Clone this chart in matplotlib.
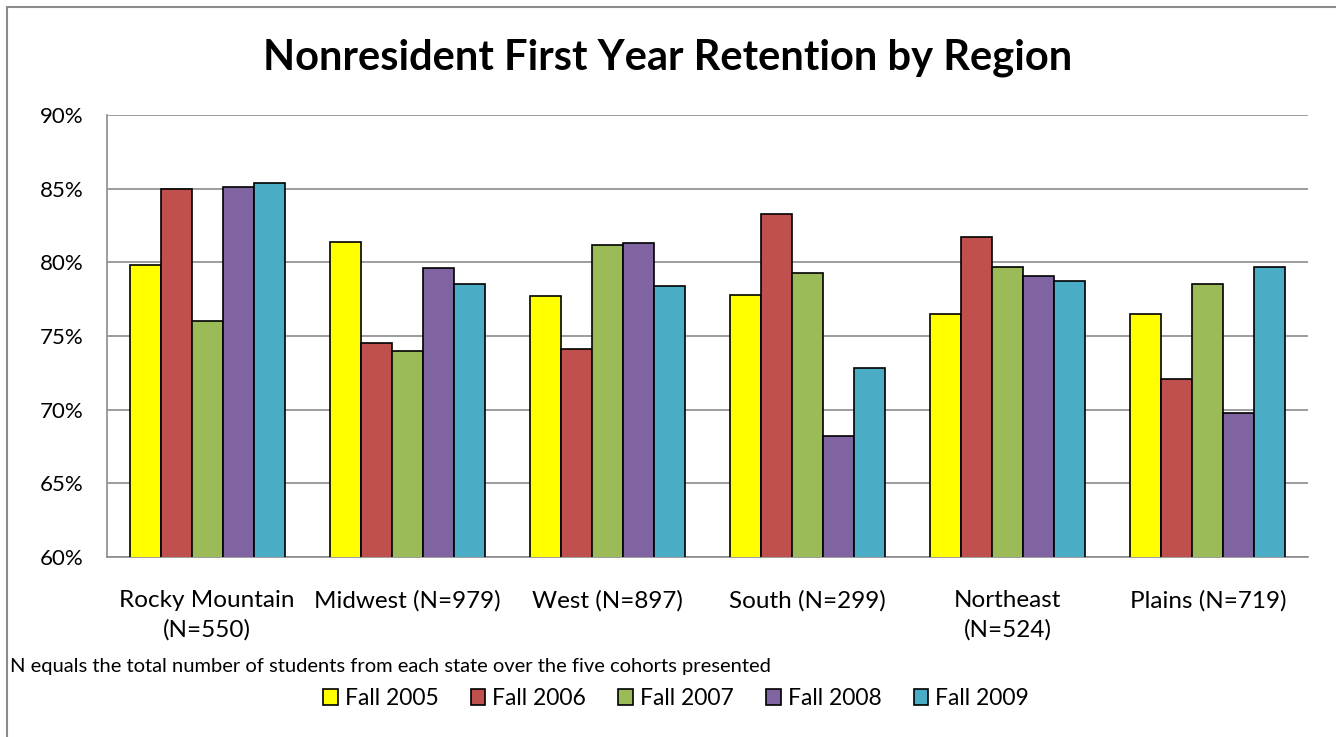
import numpy as np
import matplotlib
matplotlib.use("Agg")
import matplotlib.pyplot as plt
from matplotlib.patches import Rectangle

plt.rcParams["font.family"] = ["Lato", "DejaVu Sans"]

regions = ["Rocky Mountain\n(N=550)", "Midwest (N=979)", "West (N=897)",
           "South (N=299)", "Northeast\n(N=524)", "Plains (N=719)"]
cohorts = ["Fall 2005", "Fall 2006", "Fall 2007", "Fall 2008", "Fall 2009"]
colors = ["#FFFF00", "#C0504D", "#9BBB59", "#8064A2", "#4BACC6"]

fall_2005 = [79.8, 81.4, 77.7, 77.8, 76.5, 76.5]
fall_2006 = [85.0, 74.5, 74.1, 83.3, 81.7, 72.1]
fall_2007 = [76.0, 74.0, 81.2, 79.3, 79.7, 78.5]
fall_2008 = [85.1, 79.6, 81.3, 68.2, 79.1, 69.8]
fall_2009 = [85.4, 78.5, 78.4, 72.8, 78.7, 79.7]
series = [fall_2005, fall_2006, fall_2007, fall_2008, fall_2009]

fig = plt.figure(figsize=(13.36, 7.37), dpi=100)
ax = fig.add_axes([0.0801, 0.2442, 0.8989, 0.5998])

x = np.arange(len(regions))
width = 0.155
for i, (vals, name, c) in enumerate(zip(series, cohorts, colors)):
    ax.bar(x + (i - 2) * width, vals, width, bottom=0, color=c,
           edgecolor="black", linewidth=1.2, label=name, zorder=3)

ax.set_ylim(60, 90)
ax.set_xlim(-0.5, len(regions) - 0.5)
ax.set_yticks(np.arange(60, 91, 5))
ax.set_yticklabels([f"{v}%" for v in range(60, 91, 5)], fontsize=16)
ax.set_xticks(x)
ax.set_xticklabels(regions, fontsize=17.5, linespacing=1.45)
ax.tick_params(axis="y", length=0, pad=17)
ax.tick_params(axis="x", length=0, pad=24)
ax.yaxis.grid(True, color="#8c8c8c", linewidth=1.2, zorder=0)
for s in ["top", "right"]:
    ax.spines[s].set_visible(False)
for s in ["left", "bottom"]:
    ax.spines[s].set_color("#8c8c8c")
    ax.spines[s].set_linewidth(1.2)

fig.text(0.5, 0.922, "Nonresident First Year Retention by Region", ha="center",
         va="center", fontsize=30, fontweight="bold")
fig.text(0.0075, 0.096, "N equals the total number of students from each state over the five cohorts presented",
         ha="left", va="center", fontsize=14.5)

fig.legend(loc="center", bbox_to_anchor=(0.506, 0.052), ncol=5, frameon=False,
           fontsize=16.5, handlelength=0.65, handleheight=0.65, handletextpad=0.3,
           columnspacing=1.4)

# outer chart border
fig.add_artist(Rectangle((0.0052, -0.05), 1.2, 1.04, transform=fig.transFigure,
                         fill=False, edgecolor="#8c8c8c", linewidth=1.5))

fig.savefig("out.png", dpi=100)
